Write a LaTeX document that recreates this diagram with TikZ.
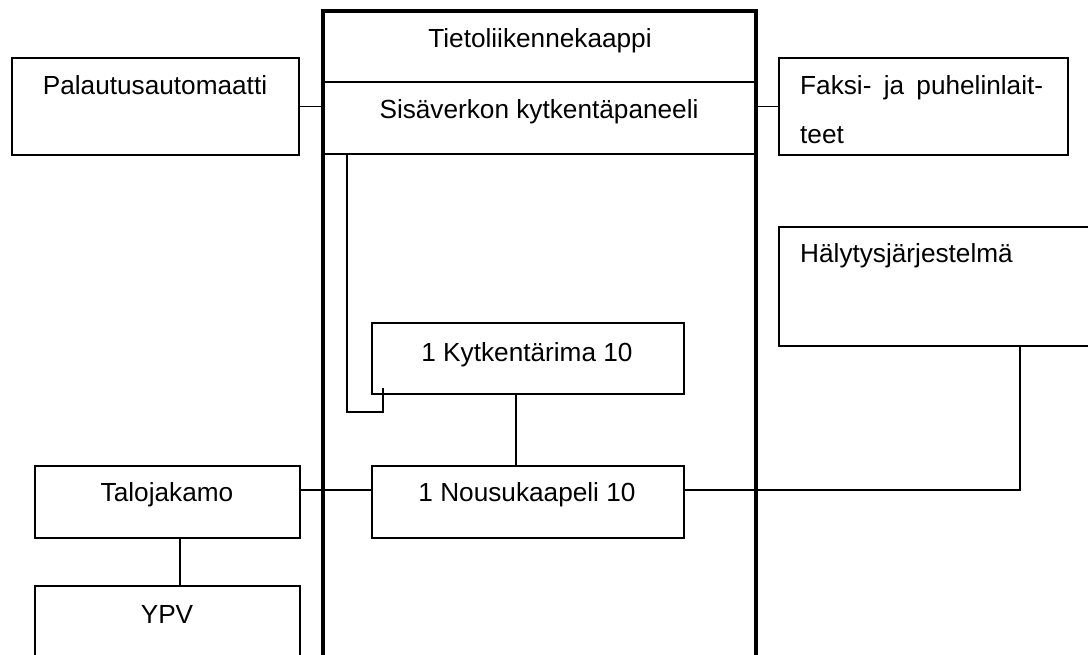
\documentclass[tikz,border=0pt]{standalone}
\usepackage{fontspec}
\setmainfont{Liberation Sans}
\begin{document}
\begin{tikzpicture}[x=1pt,y=-1pt,
  box/.style={draw=black, line width=1.6pt, rectangle, inner sep=0pt, outer sep=0pt, anchor=north west},
  cabinet/.style={draw=black, line width=3.6pt, rectangle, inner sep=0pt, outer sep=0pt, anchor=north west},
  wire/.style={draw=black, line width=1.6pt},
  lbl/.style={inner sep=0pt, anchor=base, font=\fontsize{26.2}{30}\selectfont},
  lbll/.style={lbl, anchor=base west}]
\useasboundingbox (0,0) rectangle (1088,655);
\clip (0,0) rectangle (1088,655);

% the cabinet and its patch panel
\node[cabinet, minimum width=433pt, minimum height=720pt] (cab) at (323,11) {};
\node[box, minimum width=433pt, minimum height=72pt] (panel) at (323,82) {};
\draw[wire, line width=2.3pt] (panel.south west) -- ([xshift=169pt]panel.south west);

% devices
\node[box, minimum width=287pt, minimum height=97pt] (pal) at (12,58) {};
\node[box, minimum width=289pt, minimum height=97pt] (fax) at (779,58) {};
\node[box, minimum width=482pt, minimum height=119pt] (hal) at (779,227) {};
\node[box, minimum width=312pt, minimum height=71pt] (kyt) at (372,323) {};
\node[box, minimum width=312pt, minimum height=72pt] (nou) at (372,466) {};
\node[box, minimum width=265pt, minimum height=72pt] (talo) at (35,466) {};
\node[box, minimum width=265pt, minimum height=120pt] (ypv) at (35,586) {};

% labels
\node[lbl] (tcab) at (540,48) {Tietoliikennekaappi};
\node[lbl] (tpanel) at (539,119) {Sisäverkon kytkentäpaneeli};
\node[lbl] (tpal) at (155,95) {Palautusautomaatti};
\node[lbll] (tfax1) at (800,95) {\makebox[243pt][s]{Faksi- ja puhelinlait-}};
\node[lbll] (tfax2) at (800,144) {teet};
\node[lbll] (thal) at (800,263) {Hälytysjärjestelmä};
\node[lbl] (tkyt) at (527,361) {1 Kytkentärima 10};
\node[lbl] (tnou) at (527,501) {1 Nousukaapeli 10};
\node[lbl] (ttalo) at (167,501) {Talojakamo};
\node[lbl] (typv) at (167,623) {YPV};

% connectors
\draw[wire] (pal.east) -- (pal.east -| panel.west);
\draw[wire] (fax.west) -- (fax.west -| panel.east);
\coordinate (kend) at ([xshift=11pt,yshift=6pt]kyt.south west);
\draw[wire] ([xshift=24pt]panel.south west) |- ([yshift=-24pt]kend) -- (kend);
\draw[wire] ([xshift=-12pt]kyt.south) -- ([xshift=-12pt]nou.north);
\draw[wire] ([yshift=12pt]talo.east) -- ([yshift=12pt]nou.west);
\draw[wire] ([yshift=12pt]nou.east) -| (hal.south);
\draw[wire] ([xshift=12.5pt]talo.south) -- ([xshift=12.5pt]ypv.north);
\end{tikzpicture}
\end{document}
